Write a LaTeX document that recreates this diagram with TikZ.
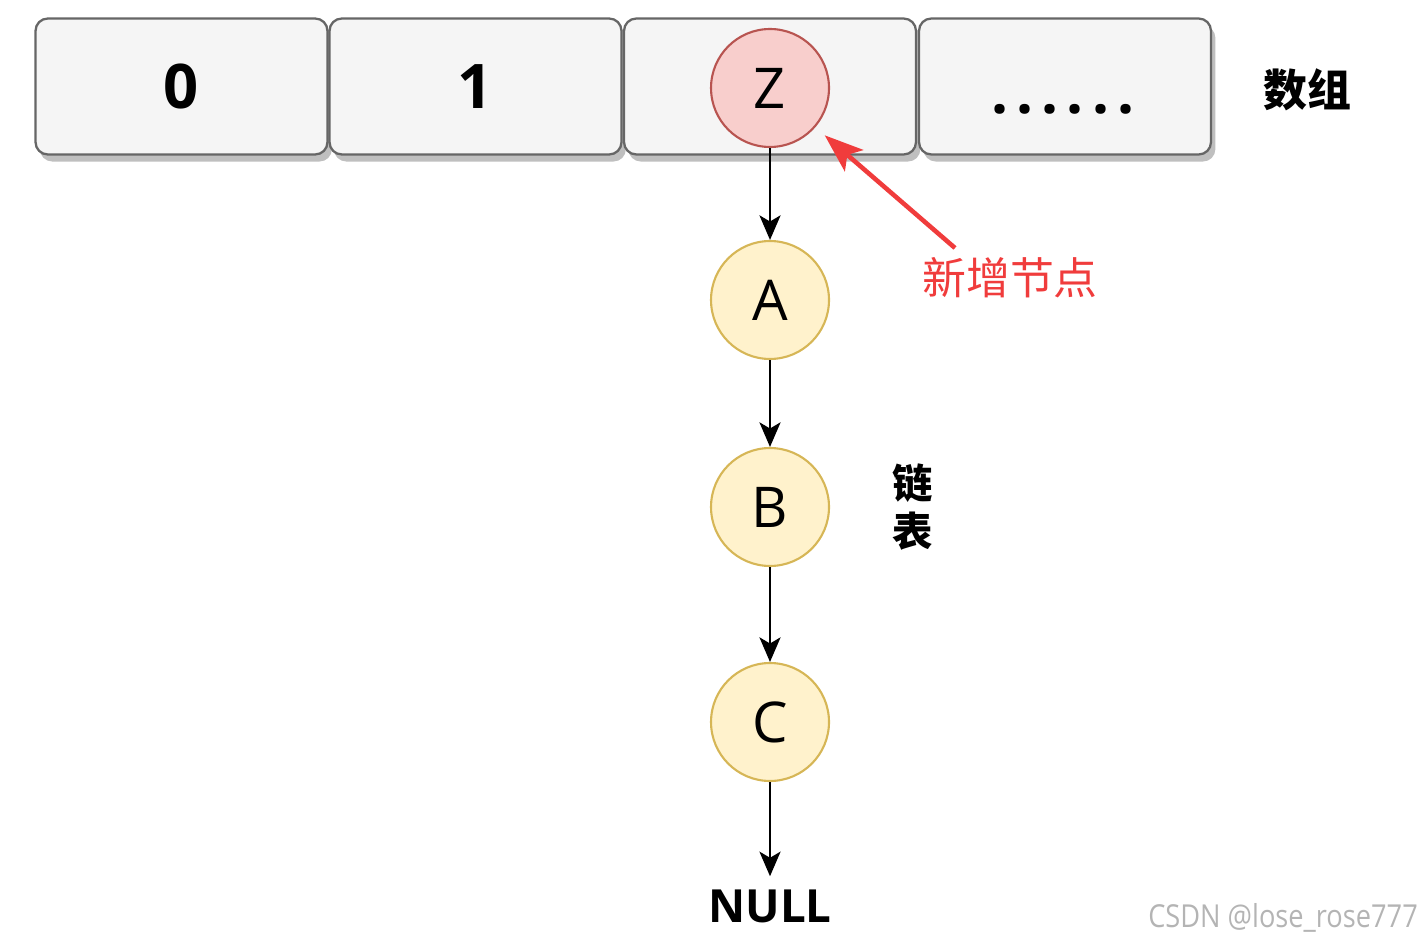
\documentclass[tikz,border=0pt]{standalone}
\usepackage{fontspec}
\setmainfont{Open Sans}
\newfontfamily\cjk{Noto Sans CJK SC}
\usetikzlibrary{arrows.meta,shadows,calc}
\definecolor{boxfill}{HTML}{F5F5F5}
\definecolor{boxdraw}{HTML}{666666}
\definecolor{zfill}{HTML}{F8CECC}
\definecolor{zdraw}{HTML}{B85450}
\definecolor{nfill}{HTML}{FFF2CC}
\definecolor{ndraw}{HTML}{D6B656}
\definecolor{redarrow}{HTML}{F03C3C}
\definecolor{wm}{HTML}{B4B4B4}
\tikzset{
  cell/.style={draw=boxdraw, fill=boxfill, line width=1.3pt, rounded corners=7pt,
    minimum width=5.84cm, minimum height=2.72cm, inner sep=0pt,
    drop shadow={shadow xshift=2.5pt, shadow yshift=-4pt, fill=black!25, opacity=1},
    font=\bfseries\fontsize{35}{40}\selectfont},
  listnode/.style={circle, draw=ndraw, fill=nfill, line width=1.2pt,
    minimum size=2.36cm, inner sep=0pt, font=\fontsize{32}{36}\selectfont},
  znode/.style={listnode, draw=zdraw, fill=zfill},
  link/.style={-{Stealth[length=14pt,width=12pt,inset=3.5pt]}, line width=1.3pt, black},
  hint/.style={-{Stealth[length=22pt,width=16pt,inset=5pt]}, line width=2.6pt, redarrow}
}
\newcommand{\dotgap}{\hspace{4.6pt}}
\begin{document}
\begin{tikzpicture}[x=0.02cm, y=-0.02cm]
\useasboundingbox (0,0) rectangle (1422,945);
\node[cell] (c0) at (181.5,86.5) {0};
\node[cell] (c1) at (475.5,86.5) {1};
\node[cell] (c2) at (770,86.5) {};
\node[cell] (c3) at (1065,86.5) {};
\node[font=\bfseries\fontsize{34}{40}\selectfont, anchor=base, inner sep=0pt] (dots) at (1063,114) {.\dotgap.\dotgap.\dotgap.\dotgap.\dotgap.};
\node[znode] (Z) at (770,88) {Z};
\node[listnode] (A) at (770,300) {A};
\node[listnode] (B) at (770,507) {B};
\node[listnode] (C) at (770,722) {C};
\node[font=\bfseries\fontsize{26}{30}\selectfont] (null) at (770,906) {NULL};
\node[font=\cjk\bfseries\fontsize{25}{28}\selectfont] (arr) at (1307,90) {数组};
\node[font=\cjk\bfseries\fontsize{23}{27}\selectfont, align=center] (lst) at (913,507) {链\\表};
\node[font=\cjk\fontsize{25}{28}\selectfont, text=redarrow] (new) at (1010,278) {新增节点};
\node[font=\fontsize{18}{20}\selectfont, text=wm] (wmk) at (1283,918) {\scalebox{0.86}[1]{CSDN @lose\_rose777}};
\coordinate (redtail) at (955,248);
\draw[link] (Z) -- (A);
\draw[link] (A) -- (B);
\draw[link] (B) -- (C);
\draw[link, shorten >=4pt] (C) -- (null);
\draw[hint, shorten >=7pt] (redtail) -- (Z);
\end{tikzpicture}
\end{document}
